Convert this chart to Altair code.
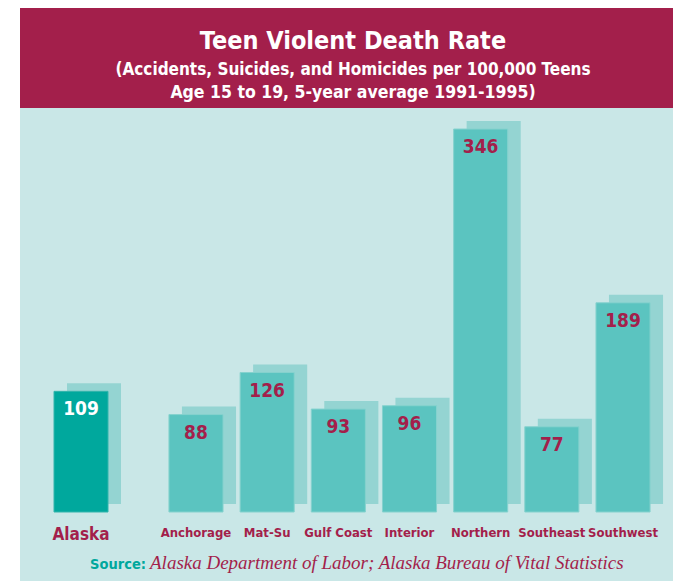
import altair as alt
import pandas as pd

# ---- data ----
STATE = ["Alaska"]
STATE_RATE = [109]
REGIONS = ["Anchorage", "Mat-Su", "Gulf Coast", "Interior", "Northern", "Southeast", "Southwest"]
REGION_RATES = [88, 126, 93, 96, 346, 77, 189]

TITLE = ["Teen Violent Death Rate"]
SUBTITLE = ["(Accidents, Suicides, and Homicides per 100,000 Teens",
            "Age 15 to 19, 5-year average 1991-1995)"]
SOURCE_LABEL = ["Source:"]
SOURCE_TEXT = ["Alaska Department of Labor; Alaska Bureau of Vital Statistics"]

# ---- style ----
W, H = 653, 573
CRIMSON = "#A31F4B"
TEAL_BG = "#C9E7E7"
BAR = "#5BC4C0"
BAR_EDGE = "#86D2CE"
SHADOW = "#94D4D2"
STATE_BAR = "#00A89D"
SOURCE_TEAL = "#00A89D"
SANS = "DejaVu Sans Condensed, Liberation Sans Narrow, sans-serif"
SERIF = "Liberation Serif, DejaVu Serif, serif"

state_df = pd.DataFrame({"area": STATE, "rate": STATE_RATE})
region_df = pd.DataFrame({"area": REGIONS, "rate": REGION_RATES})

ymax = max(REGION_RATES + STATE_RATE)
yscale = alt.Scale(domain=[0, ymax], range=[504, 121], nice=False, zero=True)


def bar_group(df, xscale, color, edge, label_color, cat_size, cat_y):
    x = alt.X("area:N", scale=xscale, axis=None, sort=None)
    y = alt.Y("rate:Q", scale=yscale, axis=None)
    base = alt.Chart(df)
    shadow = base.mark_bar(color=SHADOW, xOffset=13, x2Offset=13,
                           yOffset=-8, y2Offset=-8).encode(x=x, y=y)
    bar = base.mark_bar(color=color, stroke=edge, strokeWidth=1).encode(x=x, y=y)
    val = base.mark_text(font=SANS, fontWeight="bold", fontSize=19, color=label_color,
                         baseline="alphabetic", dy=24).encode(x=x, y=y, text="rate:Q")
    cat = base.mark_text(font=SANS, fontWeight="bold", fontSize=cat_size, color=CRIMSON,
                         baseline="alphabetic").encode(x=x, y=alt.value(cat_y), text="area:N")
    return alt.layer(shadow, bar, val, cat)


state_layer = bar_group(state_df,
                        alt.Scale(range=[34, 88], paddingInner=0, paddingOuter=0),
                        STATE_BAR, "#33B5AC", "white", 17, 532)
region_layer = bar_group(region_df,
                         alt.Scale(range=[140.4, 638.6], paddingInner=0.24, paddingOuter=0.12),
                         BAR, BAR_EDGE, CRIMSON, 13, 529)

band = alt.Chart(pd.DataFrame({"k": [0]})).mark_rect(color=CRIMSON).encode(
    x=alt.value(0), x2=alt.value(W), y=alt.value(0), y2=alt.value(100))

title = alt.Chart(pd.DataFrame({"t": TITLE})).mark_text(
    font=SANS, fontWeight="bold", fontSize=25, color="white", baseline="alphabetic"
).encode(x=alt.value(333), y=alt.value(41), text="t:N")

sub_df = pd.DataFrame({"t": SUBTITLE, "i": list(range(len(SUBTITLE)))})
sub1 = alt.Chart(sub_df).transform_filter("datum.i == 0").mark_text(
    font=SANS, fontWeight="bold", fontSize=17, color="white", baseline="alphabetic"
).encode(x=alt.value(333), y=alt.value(67), text="t:N")
sub2 = alt.Chart(sub_df).transform_filter("datum.i == 1").mark_text(
    font=SANS, fontWeight="bold", fontSize=17.5, color="white", baseline="alphabetic"
).encode(x=alt.value(333), y=alt.value(90), text="t:N")

src_label = alt.Chart(pd.DataFrame({"t": SOURCE_LABEL})).mark_text(
    font=SANS, fontWeight="bold", fontSize=14.5, color=SOURCE_TEAL, baseline="alphabetic",
    align="right").encode(x=alt.value(126), y=alt.value(561), text="t:N")
src_text = alt.Chart(pd.DataFrame({"t": SOURCE_TEXT})).mark_text(
    font=SERIF, fontStyle="italic", fontSize=19, color=CRIMSON, baseline="alphabetic",
    align="left").encode(x=alt.value(130), y=alt.value(561), text="t:N")

chart = alt.layer(
    band, title, sub1, sub2, state_layer, region_layer, src_label, src_text
).resolve_scale(x="independent").properties(
    width=W, height=H,
    padding={"left": 12, "top": 0, "right": 0, "bottom": 0},
    background="white",
).configure_view(fill=TEAL_BG, stroke=None)

chart.save("out.html", embed_options={"renderer": "svg", "actions": False})
